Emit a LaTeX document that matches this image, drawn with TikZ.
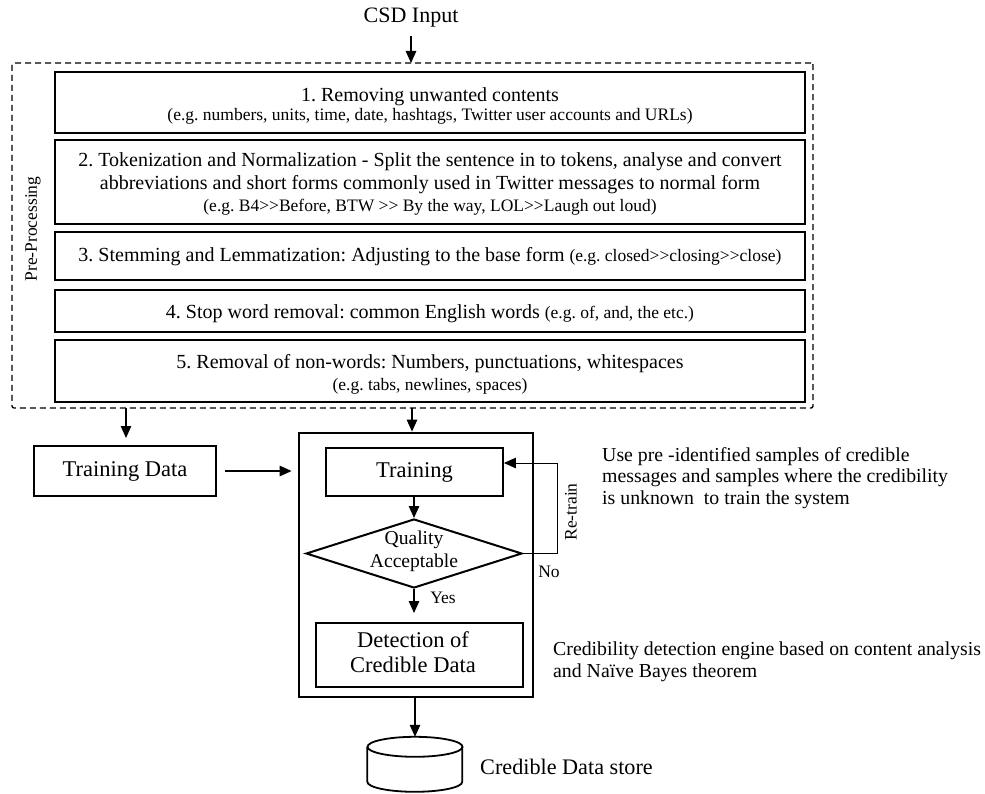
\documentclass[tikz,border=0pt]{standalone}
\usepackage{fontspec}
\setmainfont{Liberation Serif}
\usetikzlibrary{arrows.meta,shapes.geometric}
\frenchspacing

% font sizes (1pt = 1 unit of the picture)
\newcommand\fmain{\fontsize{20}{23}\selectfont}
\newcommand\fsmall{\fontsize{17.5}{20}\selectfont}
\newcommand\fbig{\fontsize{22}{25}\selectfont}
\newcommand\flabel{\fontsize{22.5}{24.5}\selectfont}
\newcommand\fnote{\fontsize{19.8}{21.8}\selectfont}
\newcommand\ftag{\fontsize{17.5}{20}\selectfont}
% two ">" signs without the guillemet mapping
\newcommand\dgt{>\kern0pt>}

\tikzset{
  stage/.style={draw, line width=1.8pt, minimum width=750pt, inner sep=0pt},
  txt/.style={inner sep=0pt, anchor=base},
  boxed/.style={draw, line width=1.8pt, inner sep=0pt},
  arrow/.style={-{Triangle[length=12pt,width=10.5pt]}, line width=1.3pt},
}

\begin{document}
\begin{tikzpicture}[x=1pt,y=-1pt]
\useasboundingbox (0,0) rectangle (985,794);

% input
\node[inner sep=0pt, font=\fbig] (csd) at (411,18) {CSD Input};
\coordinate (csdtip) at (411,63);
\draw[arrow, shorten <=8pt] (csd.south) -- (csdtip);

% pre-processing frame
\node[draw, dash pattern=on 6pt off 4pt, line width=1.3pt, rounded corners=2pt,
      minimum width=801pt, minimum height=345pt, inner sep=0pt] (pre) at (412.5,235.5) {};
\node[inner sep=0pt, rotate=90, font=\ftag] (pp) at (33,229) {Pre-Processing};

% pre-processing stages
\node[stage, minimum height=61pt] (s1) at (430,102.5) {};
\node[stage, minimum height=84pt] (s2) at (430,182) {};
\node[stage, minimum height=48pt] (s3) at (430,256) {};
\node[stage, minimum height=42pt] (s4) at (430,311) {};
\node[stage, minimum height=62pt] (s5) at (430,371) {};

\node[txt, font=\fmain] (t1a) at (430,102) {1. Removing unwanted contents};
\node[txt, font=\fsmall] (t1b) at (430,121) {(e.g. numbers, units, time, date, hashtags, Twitter user accounts and URLs)};
\node[txt, font=\fmain] (t2a) at (430,167) {2. Tokenization and Normalization - Split the sentence in to tokens, analyse and convert};
\node[txt, font=\fmain] (t2b) at (430,190) {abbreviations and short forms commonly used in Twitter messages to normal form};
\node[txt, font=\fsmall] (t2c) at (430,212) {(e.g. B4\dgt Before, BTW \dgt{} By the way, LOL\dgt Laugh out loud)};
\node[txt, font=\fmain] (t3) at (430,262) {3. Stemming and Lemmatization: Adjusting to the base form {\fsmall(e.g. closed\dgt closing\dgt close)}};
\node[txt, font=\fmain] (t4) at (430,318) {4. Stop word removal: common English words {\fsmall(e.g. of, and, the etc.)}};
\node[txt, font=\fmain] (t5a) at (430,368) {5. Removal of non-words: Numbers, punctuations, whitespaces};
\node[txt, font=\fsmall] (t5b) at (430,390) {(e.g. tabs, newlines, spaces)};

% outputs of the frame
\coordinate (l1) at (126,408);
\coordinate (l2) at (126,438);
\draw[arrow] (l1) -- (l2);

% training data
\node[boxed, minimum width=182pt, minimum height=50pt, font=\flabel] (tdata) at (125,471) {Training Data};

% detection engine
\node[draw, line width=2.8pt, minimum width=234pt, minimum height=264pt, inner sep=0pt] (eng) at (416,565) {};
\coordinate (m1) at (412,408);
\draw[arrow] (m1) -- (m1 |- eng.north);
\draw[arrow, shorten <=8pt, shorten >=6pt] (tdata.east) -- (tdata.east -| eng.west);

\node[boxed, minimum width=177pt, minimum height=48pt, font=\flabel] (train) at (414.5,472) {Training};
\node[diamond, draw, line width=2pt, minimum width=216pt, minimum height=69pt, inner sep=0pt] (dia) at (414,553.5) {};
\node[inner sep=0pt, align=center, font=\fontsize{19.6}{23}\selectfont] (qa) at (414,551) {Quality\\Acceptable};
\draw[arrow] (dia.north |- train.south) -- (dia.north);

% re-train loop
\coordinate (rt1) at (557,553.5);
\coordinate (rt2) at (557,463);
\draw[arrow, line width=1pt] (dia.east) -- (rt1) -- (rt2) -- (rt2 -| train.east);
\node[inner sep=0pt, rotate=90, font=\ftag] (rtl) at (571,512) {Re-train};
\node[inner sep=0pt, font=\ftag] (no) at (549,572) {No};

% accepted branch
\coordinate (yt) at (414,613);
\draw[arrow] (dia.south) -- (yt);
\node[inner sep=0pt, font=\ftag] (yes) at (443,598) {Yes};
\node[boxed, minimum width=207pt, minimum height=64pt] (det) at (419.5,655) {};
\node[inner sep=0pt, align=center, font=\flabel] (detl) at (413,652) {Detection of\\Credible Data};

% data store (cylinder)
\node[inner sep=0pt, minimum width=95pt, minimum height=56pt] (store) at (415,765) {};
\draw[line width=1.8pt] (store.north west) ++(0,10) -- ++(0,35)
  arc[start angle=180, end angle=360, x radius=47.5pt, y radius=10pt] -- ++(0,-35);
\draw[line width=1.8pt] (store.north) ++(0,10) ellipse[x radius=47.5pt, y radius=10pt];
\draw[arrow] (store.north |- eng.south) -- (store.north);
\node[inner sep=0pt, anchor=west, font=\fontsize{22.2}{25}\selectfont] (storel) at (480,767) {Credible Data store};

% notes
\node[inner sep=0pt, anchor=north west, align=left, font=\fnote] (note1) at (602,447)
  {Use pre -identified samples of credible\\messages and samples where the credibility\\is unknown~ to train the system};
\node[inner sep=0pt, anchor=north west, align=left, font=\fnote] (note2) at (553,642)
  {Credibility detection engine based on content analysis\\and Naïve Bayes theorem};
\end{tikzpicture}
\end{document}
